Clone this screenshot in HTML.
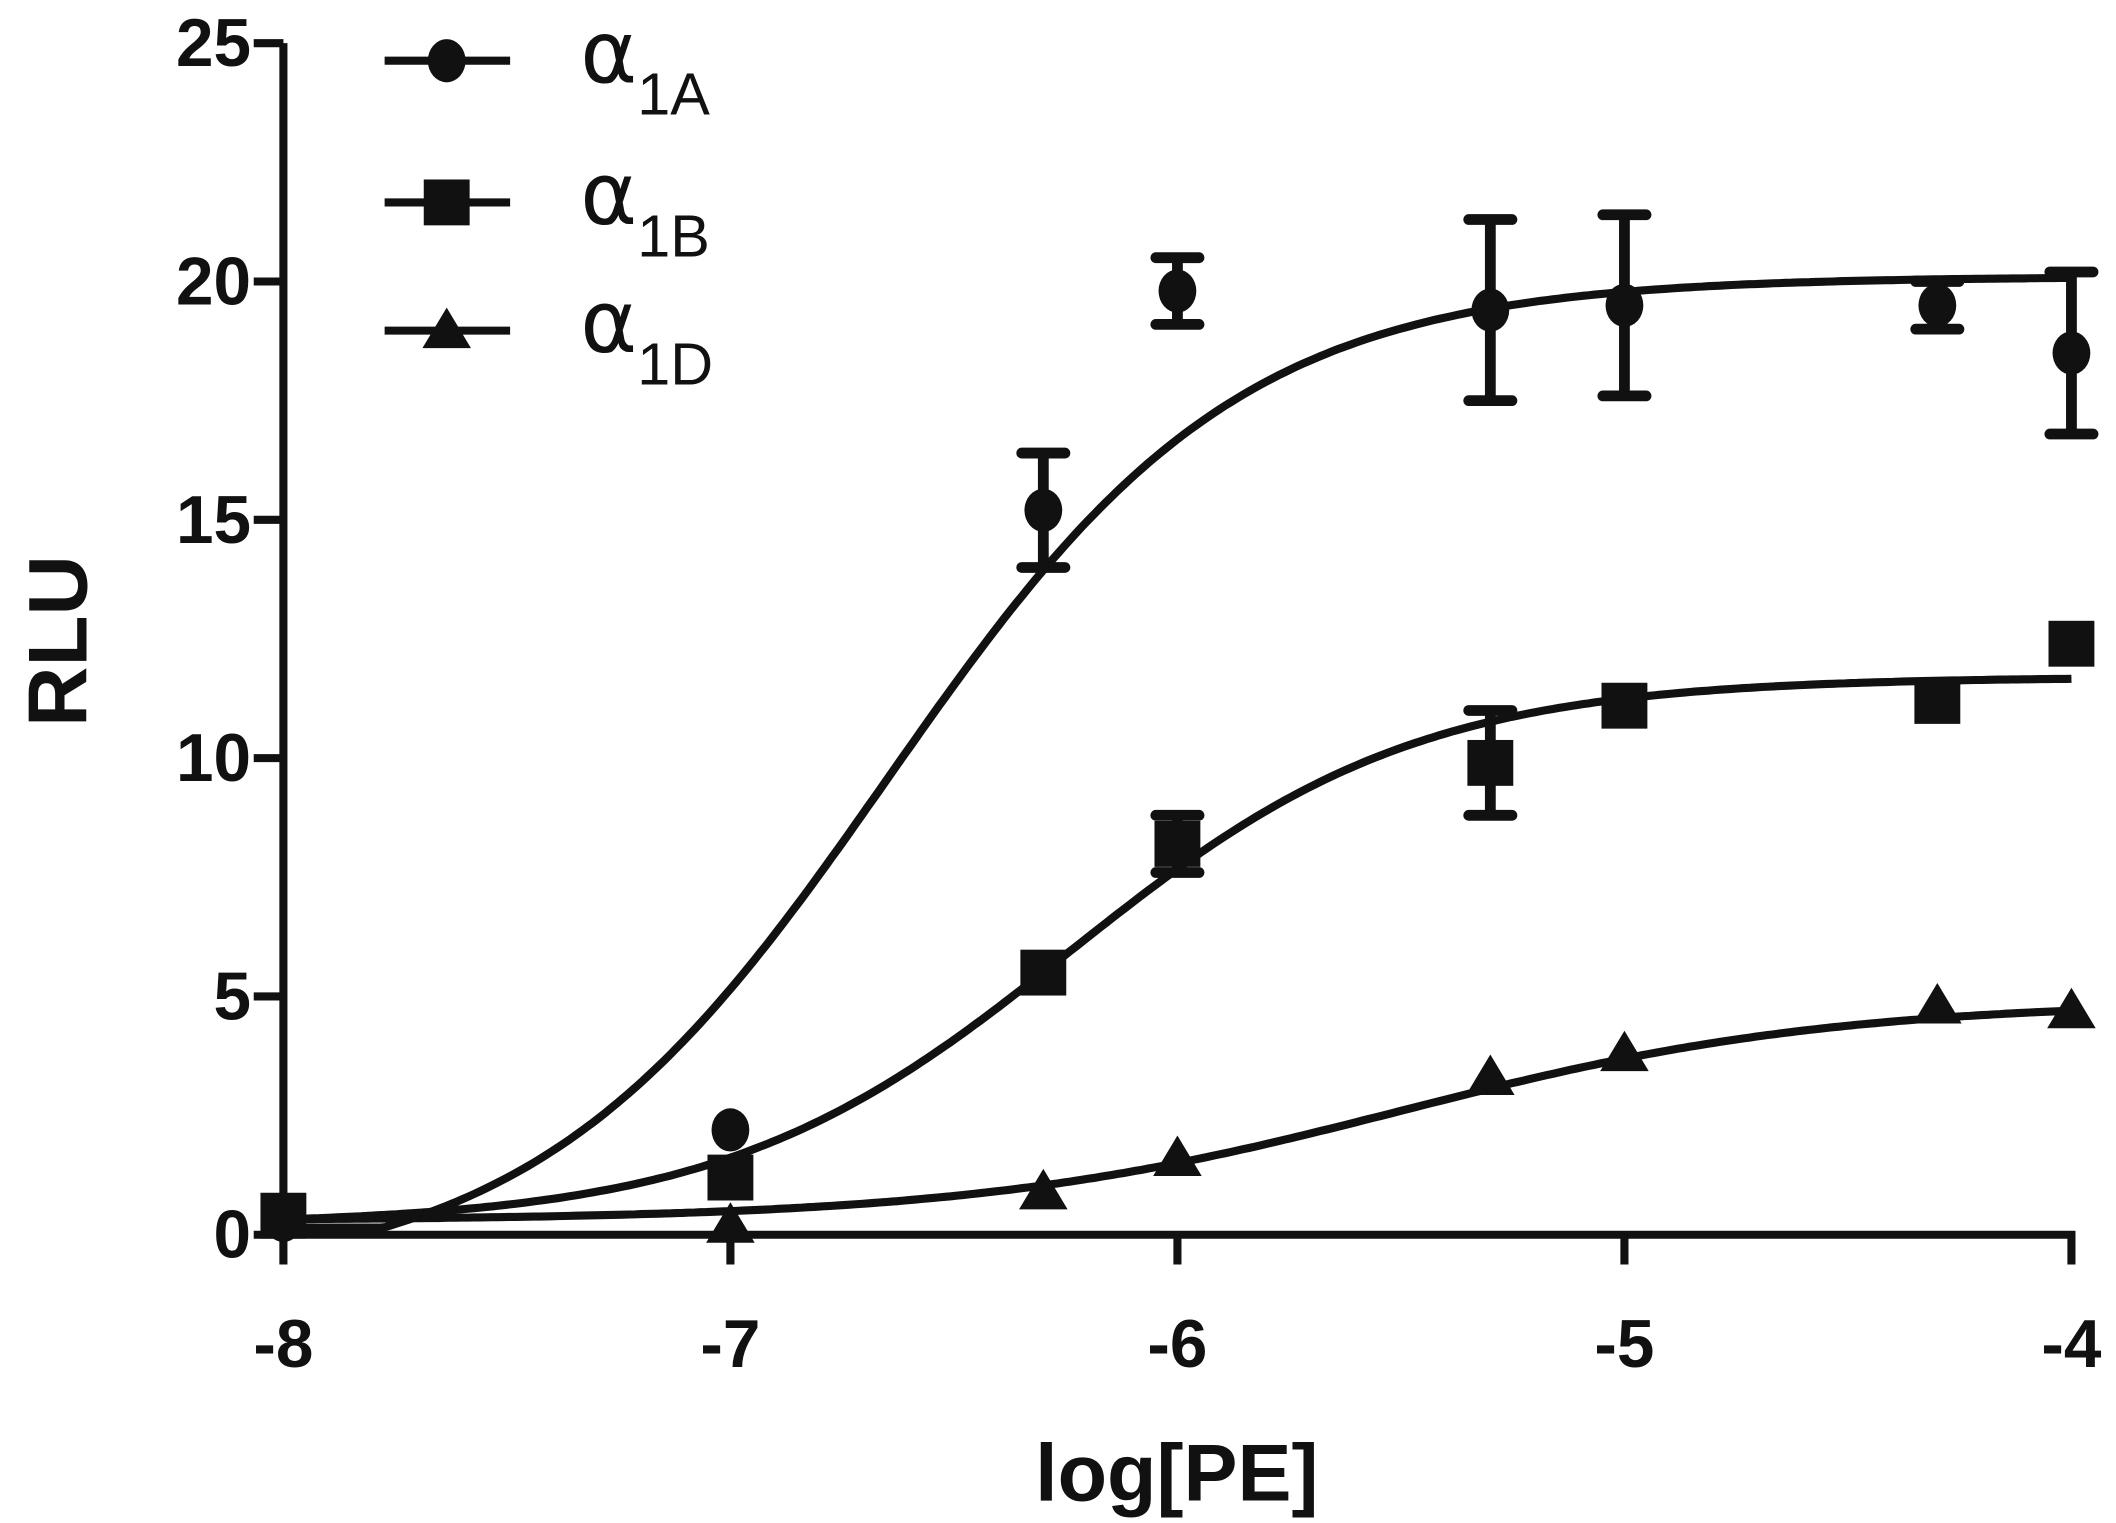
<!DOCTYPE html>
<html><head><meta charset="utf-8"><style>
html,body{margin:0;padding:0;background:#fff;}
svg{display:block;font-family:"Liberation Sans",sans-serif;}
</style></head><body>
<svg id="chart" width="2116" height="1523" viewBox="0 0 1568 1128.6" xmlns="http://www.w3.org/2000/svg">
<g id="axes"></g>
<g id="curves"></g>
<g id="marks"></g>
<g id="legend"></g>
</svg>
<script>
const xTicks = [-8, -7, -6, -5, -4];
const yTicks = [0, 5, 10, 15, 20, 25];
const doses = [-8, -7, -6.3, -6, -5.3, -5, -4.3, -4];
const a1A = [0.3, 2.2, 15.2, 19.8, 19.4, 19.5, 19.5, 18.5];
const a1AErr = [0, 0, 1.2, 0.7, 1.9, 1.9, 0.5, 1.7];
const a1B = [0.4, 1.2, 5.5, 8.2, 9.9, 11.1, 11.2, 12.4];
const a1BErr = [0, 0.3, 0.3, 0.6, 1.1, 0.2, 0.2, 0.2];
const a1D = [0.3, 0.2, 0.9, 1.6, 3.3, 3.8, 4.8, 4.7];
const a1DErr = [0, 0, 0, 0, 0, 0, 0, 0];
const fitA = [-1.0, 20.1, -6.65, 1.1];
const fitB = [0.2, 11.7, -6.24, 1.12];
const fitD = [0.3, 4.9, -5.5, 0.9];

const NS = "http://www.w3.org/2000/svg";
const X0 = 210, X1 = 1535, Y0 = 915, Y1 = 32;
const sx = v => X0 + (v + 8) / 4 * (X1 - X0);
const sy = v => Y0 - v / 25 * (Y0 - Y1);
function mk(tag, attrs, parent) {
  const e = document.createElementNS(NS, tag);
  for (const k in attrs) e.setAttribute(k, attrs[k]);
  parent.appendChild(e);
  return e;
}
const axes = document.getElementById('axes');
let ya = mk('line', {x1: X0, y1: Y1, x2: X0, y2: Y0, stroke: '#111', 'stroke-width': 6}, axes);


let xa = mk('line', {x1: X0 - 3, y1: Y0, x2: X1 + 3, y2: Y0, stroke: '#111', 'stroke-width': 6}, axes);


yTicks.forEach(t => {
  let l = mk('line', {x1: X0 - 22, y1: sy(t), x2: X0, y2: sy(t), stroke: '#111', 'stroke-width': 6}, axes);
  
  
  let tx = mk('text', {x: X0 - 24, y: sy(t) + 17, 'text-anchor': 'end', 'font-size': 50, 'font-weight': 'bold', fill: '#111'}, axes);
  tx.textContent = t;
  
  
});
xTicks.forEach(t => {
  let l = mk('line', {x1: sx(t), y1: Y0, x2: sx(t), y2: Y0 + 22, stroke: '#111', 'stroke-width': 6}, axes);
  
  
  let tx = mk('text', {x: sx(t), y: Y0 + 98, 'text-anchor': 'middle', 'font-size': 50, 'font-weight': 'bold', fill: '#111'}, axes);
  tx.textContent = t;
  
  
});
let xt = mk('text', {x: 872, y: 1112, 'text-anchor': 'middle', 'font-size': 60, 'font-weight': 'bold', fill: '#111'}, axes);
xt.textContent = 'log[PE]';


let yt = mk('text', {x: 0, y: 0, transform: 'translate(64,475) rotate(-90)', 'text-anchor': 'middle', 'font-size': 62, 'font-weight': 'bold', fill: '#111'}, axes);
yt.textContent = 'RLU';



const curves = document.getElementById('curves');
const marks = document.getElementById('marks');
function curve(p, name) {
  let d = '';
  for (let i = 0; i <= 300; i++) {
    const x = -8 + 4 * i / 300;
    let y = p[0] + (p[1] - p[0]) / (1 + Math.pow(10, (p[2] - x) * p[3]));
    if (y < 0.15) y = 0.15;
    d += (i ? 'L' : 'M') + sx(x).toFixed(1) + ' ' + sy(y).toFixed(1);
  }
  let c = mk('path', {d, fill: 'none', stroke: '#111', 'stroke-width': 6}, curves);
  
  
}
curve(fitA, 'fit-curve-a1a');
curve(fitB, 'fit-curve-a1b');
curve(fitD, 'fit-curve-a1d');

function marker(shape, cx, cy, parent) {
  if (shape === 'circle') return mk('ellipse', {cx, cy, rx: 14, ry: 16, fill: '#111'}, parent);
  if (shape === 'square') return mk('rect', {x: cx - 17, y: cy - 17, width: 34, height: 34, fill: '#111'}, parent);
  return mk('polygon', {points: `${cx},${cy - 17} ${cx + 18},${cy + 13} ${cx - 18},${cy + 13}`, fill: '#111'}, parent);
}
function series(vals, errs, shape, name) {
  vals.forEach((v, i) => {
    const cx = sx(doses[i]), cy = sy(v);
    if (errs[i] > 0.35) {
      const t = sy(v + errs[i]), b = sy(v - errs[i]);
      let eb = mk('path', {d: `M${cx} ${t}V${b}M${cx - 16} ${t}H${cx + 16}M${cx - 16} ${b}H${cx + 16}`, stroke: '#111', 'stroke-width': 8, 'stroke-linecap': 'round', fill: 'none'}, marks);
      
      
    }
    let m = marker(shape, cx, cy, marks);
    
    
  });
}
series(a1A, a1AErr, 'circle', 'a1a');
series(a1B, a1BErr, 'square', 'a1b');
series(a1D, a1DErr, 'triangle', 'a1d');

const legend = document.getElementById('legend');
const leg = [['circle', 45, '1A', 'legend-a1a'], ['square', 150, '1B', 'legend-a1b'], ['triangle', 245, '1D', 'legend-a1d']];
leg.forEach(([s, y, sub, name]) => {
  let l = mk('line', {x1: 285, y1: y, x2: 378, y2: y, stroke: '#111', 'stroke-width': 6}, legend);
  
  
  let m = marker(s, 331, y, legend);
  
  
  let t = mk('text', {x: 430, y: y + 16, 'font-size': 64, fill: '#111', 'font-family': '"DejaVu Sans", sans-serif'}, legend);
  t.innerHTML = 'α<tspan dy="24" font-size="44" font-family="Liberation Sans, sans-serif">' + sub + '</tspan>';
  
  
});
</script>
</body></html>
